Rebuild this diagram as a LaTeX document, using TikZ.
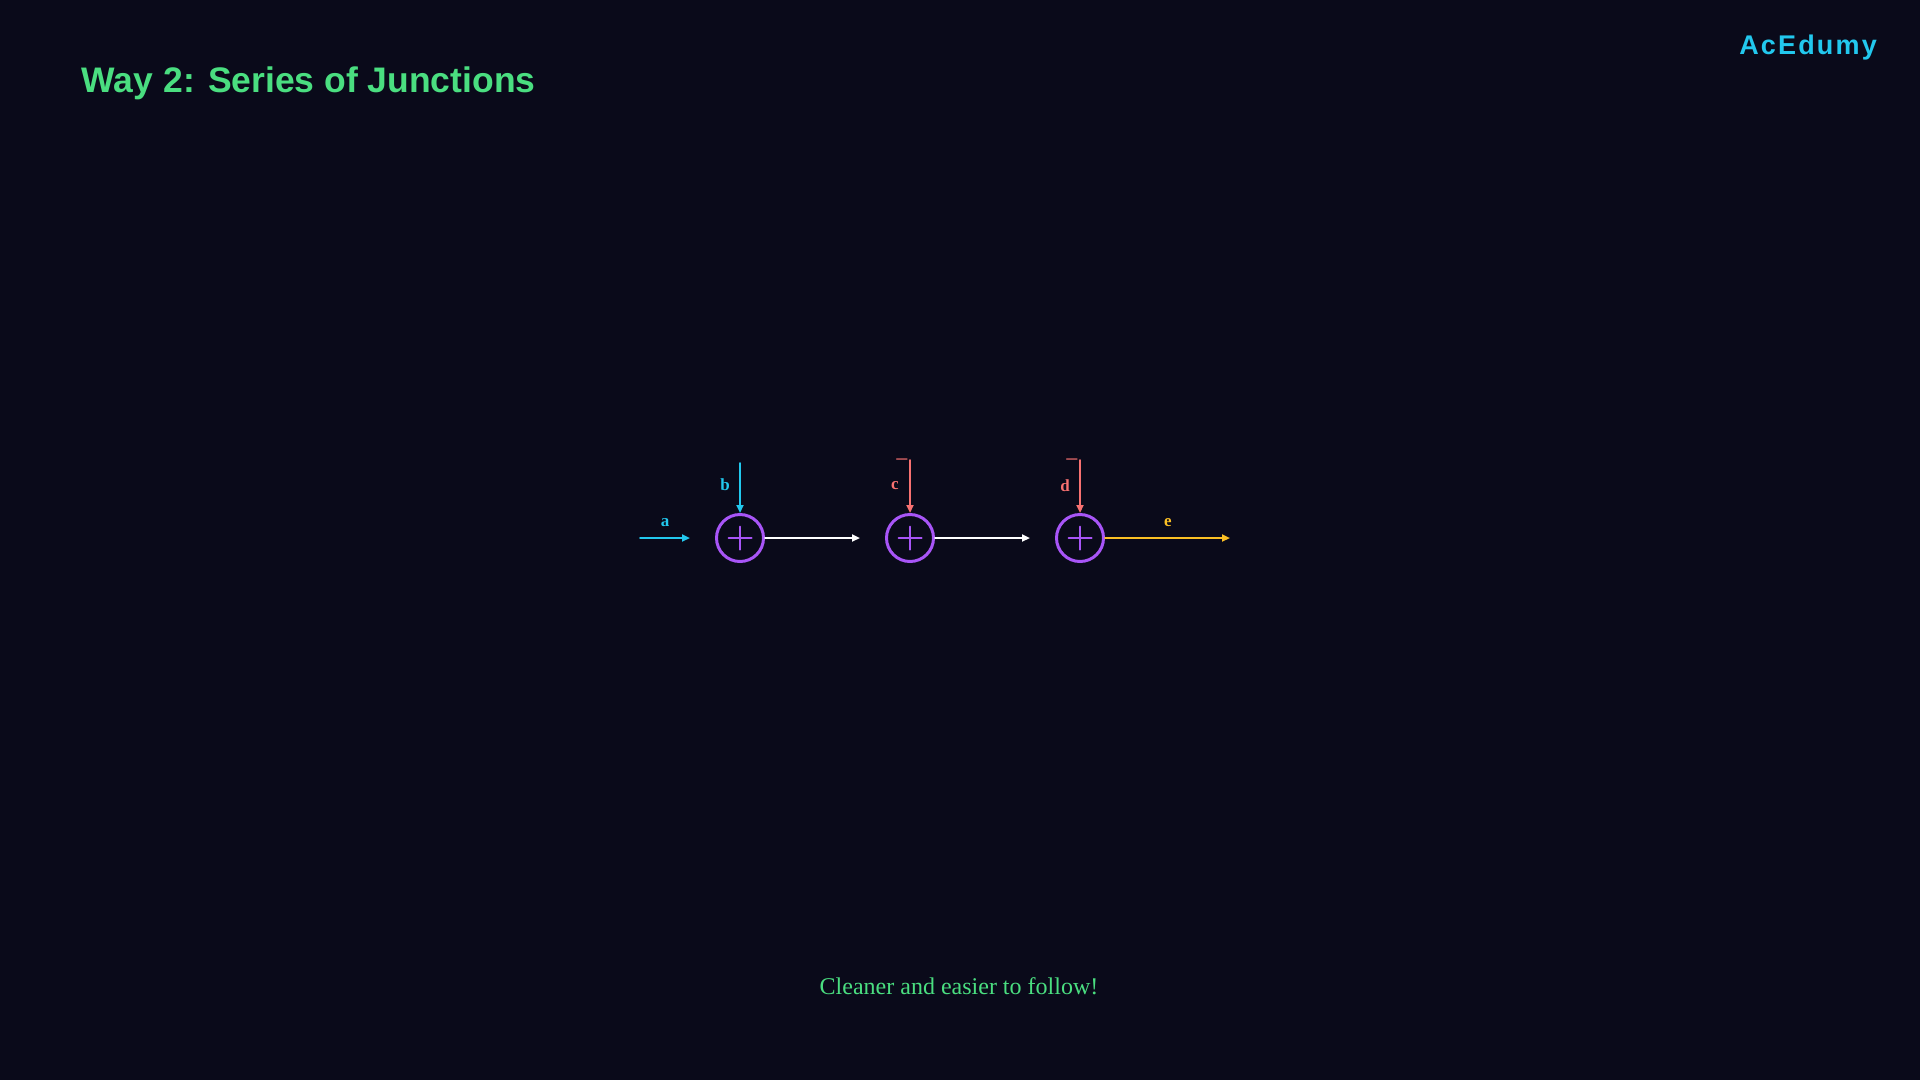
\documentclass[tikz,border=0pt]{standalone}
\usepackage{fontspec}
\setmainfont{Liberation Serif}
\newfontfamily\headfont{Liberation Sans}
\newfontfamily\brandfont[LetterSpace=8]{Liberation Sans}
\usetikzlibrary{arrows.meta}
\definecolor{bgnavy}{RGB}{10,10,26}
\definecolor{jpurple}{RGB}{168,85,247}
\definecolor{sigcyan}{RGB}{34,200,238}
\definecolor{sigred}{RGB}{248,113,113}
\definecolor{sigyellow}{RGB}{251,191,36}
\definecolor{capgreen}{RGB}{74,222,128}
\tikzset{
  junc/.style={circle, draw=jpurple, line width=3pt, minimum size=47pt, inner sep=0pt,
    path picture={\draw[jpurple, line width=2pt]
      ([xshift=-11.5pt]path picture bounding box.center) -- ([xshift=11.5pt]path picture bounding box.center)
      ([yshift=-11.5pt]path picture bounding box.center) -- ([yshift=11.5pt]path picture bounding box.center);}},
  sig/.style={line width=2pt, ->},
  lbl/.style={font=\fontsize{17}{20}\selectfont\bfseries, inner sep=0pt}
}
\begin{document}
\begin{tikzpicture}[x=1pt, y=-1pt, line cap=round, >={Triangle[length=8pt,width=7pt]}]
	\fill[bgnavy] (0,0) rectangle (1920,1080);
	\useasboundingbox (0,0) rectangle (1920,1080);
	% headings
	\node[anchor=base west, inner sep=0pt, text=capgreen] (title) at (81.6,92.7) {\headfont\bfseries\fontsize{35.5}{40}\selectfont Way 2: Series of Junctions};
	\node[anchor=base east, inner sep=0pt, text=sigcyan] (brand) at (1877,54.3) {\brandfont\bfseries\fontsize{27}{30}\selectfont AcEdumy};
	% junctions
	\node[junc] (j1) at (740,538) {};
	\node[junc] (j2) at (910,538) {};
	\node[junc] (j3) at (1080,538) {};
	\coordinate (ina) at (640,538);
	\coordinate (tipa) at (690,538);
	\coordinate (inb) at (740,463);
	\coordinate (inc) at (910,460);
	\coordinate (ind) at (1080,460);
	\coordinate (out1) at (860,538);
	\coordinate (out2) at (1030,538);
	\coordinate (oute) at (1230,538);
	\draw[sig, sigcyan] (ina) -- (tipa);
	\draw[sig, sigcyan] (inb) -- (j1.north);
	\draw[sig, sigred] (inc) -- (j2.north);
	\draw[sig, sigred] (ind) -- (j3.north);
	\draw[sig, white] (j1.east) -- (out1);
	\draw[sig, white] (j2.east) -- (out2);
	\draw[sig, sigyellow] (j3.east) -- (oute);
	% labels
	\node[lbl, text=sigcyan] (la) at (665,523) {a};
	\node[lbl, text=sigcyan] (lb) at (725,485) {b};
	\node[lbl, text=sigred] (lc) at (895,486) {c};
	\node[lbl, text=sigred] (ld) at (1065,486) {d};
	\node[lbl, text=sigyellow] (le) at (1168,523) {e};
	\node[anchor=base, inner sep=0pt, text=sigred, font=\fontsize{24}{26}\selectfont] (mc) at (902,467) {−};
	\node[anchor=base, inner sep=0pt, text=sigred, font=\fontsize{24}{26}\selectfont] (md) at (1072,467) {−};
	\node[anchor=base, inner sep=0pt, text=capgreen, font=\fontsize{24}{28}\selectfont] (note) at (959,994.3) {Cleaner and easier to follow!};
\end{tikzpicture}
\end{document}
